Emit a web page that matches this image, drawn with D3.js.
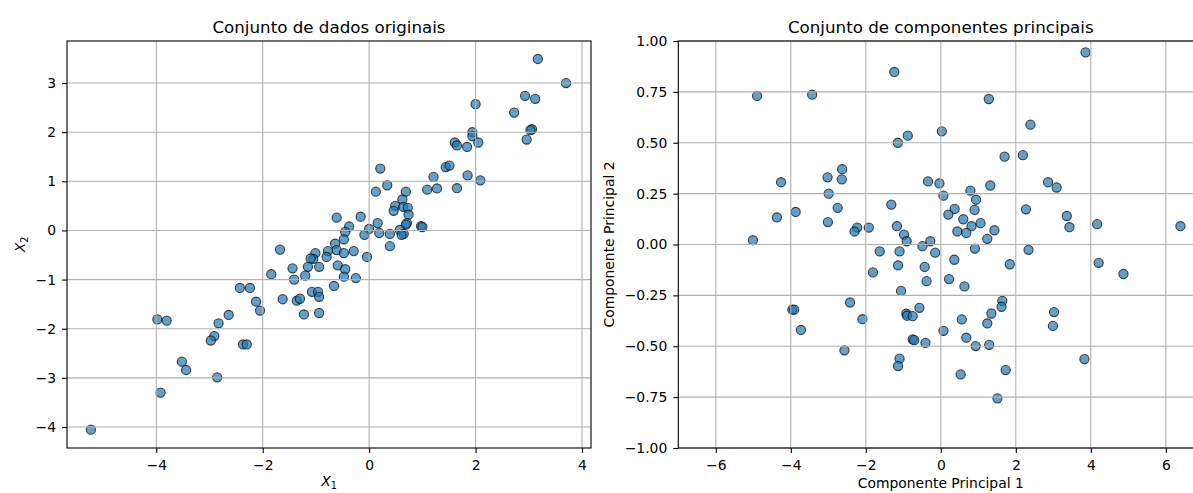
<html>
  <head>
    <meta charset="utf-8">
    <style type="text/css">
      body { margin: 0; background: #fff; }
      text { font-family: "DejaVu Sans", sans-serif; fill: #000; }
    </style>
  </head>
  <body>
    <script src="https://cdnjs.cloudflare.com/ajax/libs/d3/7.8.5/d3.min.js"></script>
    <script type="text/javascript">
      // original data set (X1, X2)
      const origX1 = [0.21, 0.34, 0.125, 0.69, 0.625, 0.49, 0.46, 0.64, 0.725, 0.74,
        0.71, 0.69, 0.575, 0.65, 0.61, 0.39, 0.39, 0.19, 0.16, 0.0,
        -0.09, -0.16, -0.04, -0.375, -0.45, -0.475, -0.61, -0.64, -0.61, -0.475,
        -0.29, -0.775, -0.8, -1.01, -1.05, -1.1, -0.94, -1.15, -0.59, -0.45,
        -0.475, -0.25, -1.44, -1.2, -1.41, -1.675, -1.84, -0.66, -1.075, -0.96,
        -0.94, -1.625, -1.36, -1.3, -1.225, -0.94, -2.24, -2.43, -2.125, -2.05,
        0.975, 1.0, 1.09, 1.275, 1.21, 1.44, 1.51, 1.85, 1.65, 2.09,
        3.17, 3.70, 2.93, 3.12, 2.725, 2.0, 3.06, 3.03, 2.96, 1.94,
        1.94, 2.05, 1.61, 1.65, 1.84,
        -5.23, -3.98, -3.805, -3.92, -3.52, -3.44, -2.855, -2.83, -2.64, -2.91,
        -2.975, -2.37, -2.30]
      const origX2 = [1.26, 0.92, 0.79, 0.79, 0.63, 0.50, 0.40, 0.48, 0.46, 0.32,
        0.15, 0.12, 0.01, -0.07, -0.09, -0.07, -0.32, -0.05, 0.15, 0.03,
        -0.09, 0.28, -0.54, 0.08, -0.03, -0.18, 0.26, -0.27, -0.40, -0.46,
        -0.42, -0.42, -0.54, -0.46, -0.58, -0.57, -0.74, -0.74, -0.71, -0.79,
        -0.94, -0.97, -0.77, -0.92, -1.0, -0.39, -0.89, -1.13, -1.25, -1.25,
        -1.35, -1.40, -1.43, -1.39, -1.71, -1.68, -1.17, -1.17, -1.45, -1.63,
        0.09, 0.07, 0.83, 0.855, 1.09, 1.29, 1.32, 1.12, 0.86, 1.02,
        3.49, 3.0, 2.74, 2.68, 2.40, 2.57, 2.06, 2.04, 1.85, 2.0,
        1.92, 1.79, 1.79, 1.73, 1.70,
        -4.055, -1.81, -1.835, -3.30, -2.67, -2.84, -2.99, -1.89, -1.72, -2.15,
        -2.24, -2.32, -2.32]

      // principal components (PC1, PC2)
      const pc1 = [1.70, 2.19, -2.63, -3.02, -2.64, -2.99, -2.75, -3.01, -0.34, -0.036,
        0.07, 1.32, 0.79, 0.94, 0.90, 0.37, 0.20, 0.60, 0.82, 1.06,
        1.43, 1.24, 0.44, 0.68, -1.32, -1.92, -2.23, -2.30, -1.17, -0.98,
        -0.91, -0.49, -0.28, -0.15, 0.91, 2.86, 3.09, 2.27, 3.36, 3.43,
        2.34, -1.63, -1.10, -1.14, -0.43, 0.36, -1.81, -0.38, 0.22, 0.63,
        1.84, -1.06, -2.42, -2.09, -0.92, -0.90, -0.75, -0.57, 1.64, 1.62,
        1.35, 1.24, 0.56, 0.07, 0.68, 0.93, 1.29, -0.75, -0.71, -0.41,
        3.02, 2.99, -2.57, -1.10, -1.14, 0.53, 1.73, 1.51,
        -4.90, -3.43, -1.24, -1.145, -4.26, -4.37, -3.87, -5.01,
        3.86, 1.28, 2.39, 0.027, -0.88, 6.39, 4.17,
        -3.96, -3.91, -3.73,
        4.21, 4.87, 3.83]
      const pc2 = [0.432, 0.439, 0.37, 0.33, 0.32, 0.25, 0.18, 0.11, 0.31, 0.30,
        0.24, 0.29, 0.265, 0.22, 0.17, 0.175, 0.147, 0.124, 0.09, 0.105,
        0.07, 0.028, 0.064, 0.057, 0.196, 0.083, 0.083, 0.064, 0.09, 0.049,
        0.016, -0.008, 0.016, -0.04, -0.02, 0.306, 0.28, 0.173, 0.14, 0.085,
        -0.026, -0.034, -0.034, -0.103, -0.11, -0.075, -0.137, -0.18, -0.17, -0.206,
        -0.097, -0.228, -0.285, -0.367, -0.34, -0.35, -0.352, -0.311, -0.277, -0.306,
        -0.339, -0.388, -0.368, -0.424, -0.458, -0.499, -0.493, -0.466, -0.47, -0.483,
        -0.332, -0.40, -0.52, -0.561, -0.597, -0.638, -0.617, -0.756,
        0.73, 0.736, 0.848, 0.50, 0.306, 0.133, 0.16, 0.021,
        0.944, 0.715, 0.589, 0.556, 0.535, 0.09, 0.10,
        -0.32, -0.32, -0.42,
        -0.09, -0.145, -0.563]

      const leftXTicks = [-4, -2, 0, 2, 4]
      const leftYTicks = [-4, -3, -2, -1, 0, 1, 2, 3]
      const rightXTicks = [-6, -4, -2, 0, 2, 4, 6]
      const rightYTicks = [-1, -0.75, -0.5, -0.25, 0, 0.25, 0.5, 0.75, 1]
      const titles = ["Conjunto de dados originais", "Conjunto de componentes principais"]

      const W = 1193, H = 493

      let svg = d3.select("body").append("svg")
        .attr("width", W)
        .attr("height", H)

      const minus = s => s.replace("-", "\u2212")

      function drawPanel(p) {
        const x = d3.scaleLinear().domain(p.xDomain).range([p.left, p.right])
        const y = d3.scaleLinear().domain(p.yDomain).range([p.bottom, p.top])
        let g = svg.append("g")

        g.append("clipPath").attr("id", p.id + "-clip")
          .append("rect")
          .attr("x", p.left).attr("y", p.top)
          .attr("width", p.right - p.left).attr("height", p.bottom - p.top)

        // points
        g.append("g").attr("clip-path", `url(#${p.id}-clip)`)
          .selectAll("circle")
          .data(p.xs.map((v, i) => [v, p.ys[i]]))
          .enter()
          .append("circle")
          .attr("cx", d => x(d[0]))
          .attr("cy", d => y(d[1]))
          .attr("r", 4.6)
          .attr("fill", "#1f77b4")
          .attr("fill-opacity", 0.7)
          .attr("stroke", "#000")
          .attr("stroke-opacity", 0.7)
          .attr("stroke-width", 1.1)

        // grid (matplotlib draws it above the scatter)
        let grid = g.append("g").attr("stroke", "#b0b0b0").attr("stroke-width", 1.1)
        grid.selectAll(".gx").data(p.xTicks).enter().append("line")
          .attr("x1", d => x(d)).attr("x2", d => x(d))
          .attr("y1", p.top).attr("y2", p.bottom)
        grid.selectAll(".gy").data(p.yTicks).enter().append("line")
          .attr("x1", p.left).attr("x2", p.right)
          .attr("y1", d => y(d)).attr("y2", d => y(d))

        // axes
        let xAxis = g.append("g")
          .attr("transform", `translate(0,${p.bottom})`)
          .call(d3.axisBottom(x).tickValues(p.xTicks).tickFormat(d => minus(p.xFmt(d)))
            .tickSizeInner(5).tickSizeOuter(0).tickPadding(7))
        let yAxis = g.append("g")
          .attr("transform", `translate(${p.left},0)`)
          .call(d3.axisLeft(y).tickValues(p.yTicks).tickFormat(d => minus(p.yFmt(d)))
            .tickSizeInner(5).tickSizeOuter(0).tickPadding(6))
        ;[xAxis, yAxis].forEach(a => {
          a.select(".domain").remove()
          a.selectAll("line").attr("stroke", "#000").attr("stroke-width", 1.1)
          a.selectAll("text")
            .attr("font-family", "DejaVu Sans")
            .attr("font-size", "13.9px")
            .attr("fill", "#000")
        })

        // frame
        g.append("rect")
          .attr("x", p.left).attr("y", p.top)
          .attr("width", p.right - p.left).attr("height", p.bottom - p.top)
          .attr("fill", "none")
          .attr("stroke", "#000")
          .attr("stroke-width", 1.1)

        // title
        g.append("text")
          .attr("x", (p.left + p.right) / 2)
          .attr("y", 33)
          .attr("text-anchor", "middle")
          .attr("font-size", "16.7px")
          .text(p.title)

        return g
      }

      let left = drawPanel({
        id: "left", left: 67, right: 591, top: 41, bottom: 448,
        xDomain: [-5.678, 4.169], yDomain: [-4.428, 3.856],
        xs: origX1, ys: origX2,
        xTicks: leftXTicks, yTicks: leftYTicks,
        xFmt: d3.format("d"), yFmt: d3.format("d"),
        title: titles[0]
      })

      let right = drawPanel({
        id: "right", left: 678.3, right: 1203.3, top: 41, bottom: 448,
        xDomain: [-7, 7], yDomain: [-1, 1],
        xs: pc1, ys: pc2,
        xTicks: rightXTicks, yTicks: rightYTicks,
        xFmt: d3.format("d"), yFmt: d3.format(".2f"),
        title: titles[1]
      })

      // axis labels
      let xl = left.append("text")
        .attr("x", 329).attr("y", 486)
        .attr("text-anchor", "middle")
        .attr("font-size", "13.9px")
      xl.append("tspan").attr("font-style", "italic").text("X")
      xl.append("tspan").attr("font-size", "9.7px").attr("dy", 2.5).text("1")

      let yl = left.append("text")
        .attr("transform", "translate(25,244.5) rotate(-90)")
        .attr("text-anchor", "middle")
        .attr("font-size", "13.9px")
      yl.append("tspan").attr("font-style", "italic").text("X")
      yl.append("tspan").attr("font-size", "9.7px").attr("dy", 3).text("2")

      right.append("text")
        .attr("x", 940.8).attr("y", 488)
        .attr("text-anchor", "middle")
        .attr("font-size", "13.9px")
        .text("Componente Principal 1")

      right.append("text")
        .attr("transform", "translate(614,244.5) rotate(-90)")
        .attr("text-anchor", "middle")
        .attr("font-size", "13.9px")
        .text("Componente Principal 2")
    </script>
  </body>
</html>
